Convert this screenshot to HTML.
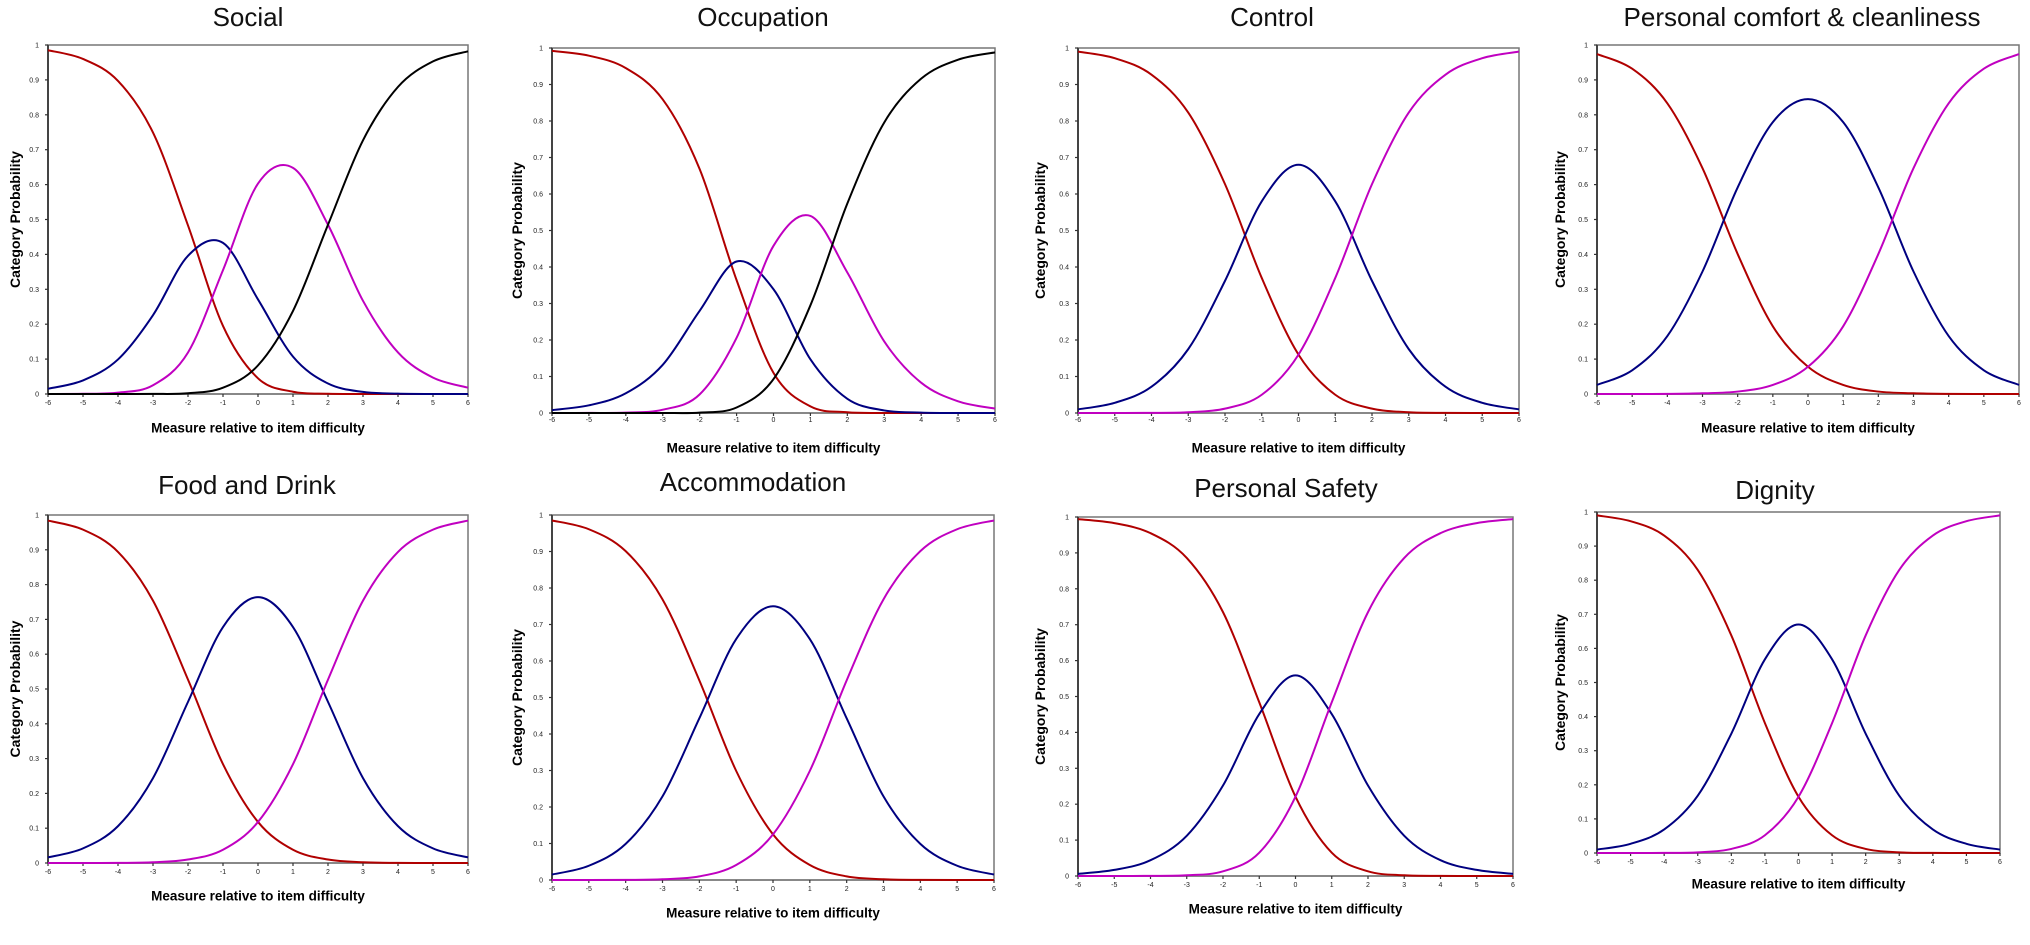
<!DOCTYPE html>
<html><head><meta charset="utf-8"><style>
html,body{margin:0;padding:0;background:#fff;}
svg{display:block;}
</style></head><body>
<svg id="fig" width="2030" height="945" viewBox="0 0 2030 945" xmlns="http://www.w3.org/2000/svg"></svg>
<script>
const xValues = [-6,-5,-4,-3,-2,-1,0,1,2,3,4,5,6];
const yTicks = [0,0.1,0.2,0.3,0.4,0.5,0.6,0.7,0.8,0.9,1];
const yTickLabels = ['0','0.1','0.2','0.3','0.4','0.5','0.6','0.7','0.8','0.9','1'];
const xTickLabels = ['-6','-5','-4','-3','-2','-1','0','1','2','3','4','5','6'];
const panelTitles = ['Social','Occupation','Control','Personal comfort & cleanliness','Food and Drink','Accommodation','Personal Safety','Dignity'];

const socialCat0 = [.985,.960,.897,.749,.483,.195,.045,.0065,.0007,0,0,0,0];
const socialCat1 = [.015,.039,.099,.226,.396,.433,.271,.107,.030,.006,.001,0,0];
const socialCat2 = [.0001,.0006,.004,.025,.119,.355,.603,.648,.485,.267,.119,.047,.018];
const socialCat3 = [0,0,0,.0002,.002,.018,.082,.238,.485,.727,.880,.953,.982];

const occCat0 = [.992,.979,.945,.859,.668,.364,.110,.018,.002,0,0,0,0];
const occCat1 = [.008,.021,.054,.132,.280,.415,.339,.147,.039,.007,.001,0,0];
const occCat2 = [0,.0002,.001,.009,.051,.206,.458,.540,.385,.196,.083,.032,.012];
const occCat3 = [0,0,0,.0001,.001,.015,.093,.295,.574,.796,.916,.968,.988];

const controlCat0 = [.990,.972,.927,.823,.627,.370,.160,.050,.012,.002,.0003,0,0];
const controlCat1 = [.010,.028,.072,.175,.362,.580,.680,.580,.362,.175,.072,.028,.010];
const controlCat2 = [0,0,.0003,.002,.012,.050,.160,.370,.627,.823,.927,.972,.990];

const comfortCat0 = [.974,.932,.833,.647,.401,.194,.078,.026,.007,.002,.0003,0,0];
const comfortCat1 = [.026,.068,.166,.351,.592,.779,.845,.779,.592,.351,.166,.068,.026];
const comfortCat2 = [0,0,.0003,.002,.007,.026,.078,.194,.401,.647,.833,.932,.974];

const foodCat0 = [.984,.958,.894,.754,.527,.284,.118,.038,.010,.002,.0003,0,0];
const foodCat1 = [.016,.042,.106,.244,.463,.678,.764,.678,.463,.244,.106,.042,.016];
const foodCat2 = [0,0,.0003,.002,.010,.038,.118,.284,.527,.754,.894,.958,.984];

const accomCat0 = [.985,.961,.901,.769,.547,.299,.125,.041,.010,.002,.0003,0,0];
const accomCat1 = [.015,.039,.099,.229,.443,.660,.750,.660,.443,.229,.099,.039,.015];
const accomCat2 = [0,0,.0003,.002,.010,.041,.125,.299,.547,.769,.901,.961,.985];

const safetyCat0 = [.994,.983,.955,.886,.735,.484,.221,.065,.013,.002,.0003,0,0];
const safetyCat1 = [.006,.017,.044,.112,.252,.451,.559,.451,.252,.112,.044,.017,.006];
const safetyCat2 = [0,0,.0003,.002,.013,.065,.221,.484,.735,.886,.955,.983,.994];

const dignityCat0 = [.990,.973,.931,.830,.638,.381,.165,.052,.012,.002,.0003,0,0];
const dignityCat1 = [.010,.027,.069,.168,.350,.568,.670,.568,.350,.168,.069,.027,.010];
const dignityCat2 = [0,0,.0003,.002,.012,.052,.165,.381,.638,.830,.931,.973,.990];

const seriesColors = ['#b00000','#000080','#c000c0','#000000'];

const panels = [
 {key:'social', title:0, box:[48,468,45,394], ylab:15, tt:[248,17], xt:405, xl:428, series:[socialCat0,socialCat1,socialCat2,socialCat3]},
 {key:'occupation', title:1, box:[552,995,48,413], ylab:517, tt:[763,17], xt:422, xl:448, series:[occCat0,occCat1,occCat2,occCat3]},
 {key:'control', title:2, box:[1078,1519,48,413], ylab:1040, tt:[1272,17], xt:422, xl:448, series:[controlCat0,controlCat1,controlCat2]},
 {key:'comfort', title:3, box:[1597,2019,45,394], ylab:1560, tt:[1802,17], xt:405, xl:428, series:[comfortCat0,comfortCat1,comfortCat2]},
 {key:'food', title:4, box:[48,468,515,863], ylab:15, tt:[247,485], xt:874, xl:896, series:[foodCat0,foodCat1,foodCat2]},
 {key:'accommodation', title:5, box:[552,994,515,880], ylab:517, tt:[753,482], xt:891, xl:913, series:[accomCat0,accomCat1,accomCat2]},
 {key:'safety', title:6, box:[1078,1513,517,876], ylab:1040, tt:[1286,488], xt:887, xl:909, series:[safetyCat0,safetyCat1,safetyCat2]},
 {key:'dignity', title:7, box:[1597,2000,512,853], ylab:1560, tt:[1775,490], xt:864, xl:884, series:[dignityCat0,dignityCat1,dignityCat2]}
];

const NS = 'http://www.w3.org/2000/svg';
const svg = document.getElementById('fig');
function mk(tag, attrs, parent){
  const e = document.createElementNS(NS, tag);
  for (const k in attrs) e.setAttribute(k, attrs[k]);
  parent.appendChild(e);
  return e;
}
function pathFrom(pts){
  let d = 'M' + pts[0][0].toFixed(2) + ',' + pts[0][1].toFixed(2);
  for (let i = 0; i < pts.length - 1; i++){
    const p0 = pts[Math.max(0,i-1)], p1 = pts[i], p2 = pts[i+1], p3 = pts[Math.min(pts.length-1,i+2)];
    const c1x = p1[0] + (p2[0]-p0[0])/6, c1y = p1[1] + (p2[1]-p0[1])/6;
    const c2x = p2[0] - (p3[0]-p1[0])/6, c2y = p2[1] - (p3[1]-p1[1])/6;
    d += ' C' + c1x.toFixed(2) + ',' + c1y.toFixed(2) + ' ' + c2x.toFixed(2) + ',' + c2y.toFixed(2) + ' ' + p2[0].toFixed(2) + ',' + p2[1].toFixed(2);
  }
  return d;
}

panels.forEach(p => {
  const [L,R,T,B] = p.box;
  const xs = v => L + (v + 6) / 12 * (R - L);
  const ys = v => B - v * (B - T);
  const g = mk('g', {}, svg);
  
  

  const title = mk('text', {x:p.tt[0], y:p.tt[1], 'text-anchor':'middle', 'dominant-baseline':'central', 'font-family':'Liberation Sans, sans-serif', 'font-size':'26', fill:'#111'}, g);
  title.textContent = panelTitles[p.title];
  
  

  // frame
  const frame = mk('rect', {x:L, y:T, width:R-L, height:B-T, fill:'none', stroke:'#777', 'stroke-width':'1.5'}, g);
  
  
  const yaxis = mk('line', {x1:L, y1:T, x2:L, y2:B, stroke:'#444', 'stroke-width':'2'}, g);
  
  
  const xaxis = mk('line', {x1:L, y1:B, x2:R, y2:B, stroke:'#888', 'stroke-width':'2'}, g);
  
  

  yTicks.forEach((v, i) => {
    const y = ys(v);
    const tk = mk('line', {x1:L-3, y1:y, x2:L, y2:y, stroke:'#333', 'stroke-width':'1.2'}, g);
    
    
    const tl = mk('text', {x:L-9, y:y+2.5, 'text-anchor':'end', 'font-family':'Liberation Sans, sans-serif', 'font-size':'7', fill:'#222'}, g);
    tl.textContent = yTickLabels[i];
    
    
  });
  xValues.forEach((v, i) => {
    const x = xs(v);
    const tk = mk('line', {x1:x, y1:B, x2:x, y2:B+3, stroke:'#333', 'stroke-width':'1.2'}, g);
    
    
    const tl = mk('text', {x:x, y:p.xt, 'text-anchor':'middle', 'font-family':'Liberation Sans, sans-serif', 'font-size':'7', fill:'#222'}, g);
    tl.textContent = xTickLabels[i];
    
    
  });

  const xl = mk('text', {x:(L+R)/2, y:p.xl, 'text-anchor':'middle', 'dominant-baseline':'central', 'font-family':'Liberation Sans, sans-serif', 'font-size':'13.5', 'font-weight':'bold', fill:'#000'}, g);
  xl.textContent = 'Measure relative to item difficulty';
  
  
  const cy = (T+B)/2;
  const yl = mk('text', {x:p.ylab, y:cy, transform:'rotate(-90 ' + p.ylab + ' ' + cy + ')', 'text-anchor':'middle', 'dominant-baseline':'central', 'font-family':'Liberation Sans, sans-serif', 'font-size':'14', 'font-weight':'bold', fill:'#000'}, g);
  yl.textContent = 'Category Probability';
  
  

  p.series.forEach((arr, si) => {
    const pts = arr.map((v, i) => [xs(xValues[i]), ys(v)]);
    const path = mk('path', {d:pathFrom(pts), fill:'none', stroke:seriesColors[si], 'stroke-width':'2'}, g);
    
    
  });
});
</script>
</body></html>
